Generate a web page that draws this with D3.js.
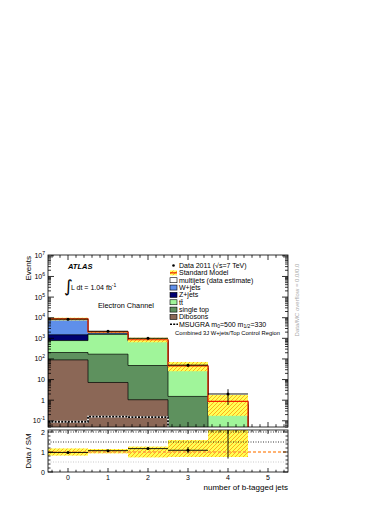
<!DOCTYPE html>
<html><head><meta charset="utf-8">
<script src="https://cdn.jsdelivr.net/npm/d3@7"></script>
<style>body{margin:0;background:#fff} svg{font-family:"Liberation Sans",Arial,Helvetica,sans-serif}</style>
</head><body><svg id="c" width="390" height="505"></svg>
<script>
// ---- data ----
const categories = [0, 1, 2, 3, 4, 5];
const dibosons  = [90, 7.2, 1.05, 0.02, 0.001, 0];
const singleTop = [115, 163, 47, 1.5, 0.02, 0];
const ttbar     = [575, 1400, 680, 34, 0.58, 0];
const zjets     = [700, 60, 12, 1, 0.02, 0];
const wjets     = [7000, 400, 100, 8, 0.18, 0];
const multijets = [220, 30, 15, 1.5, 0.07, 0];
const dataVals  = [8500, 2200, 1000, 50, 2, 0];
const msugra    = [0.09, 0.16, 0.15, 0.001, 0.001, 0.001];
const bandLo    = [0.15, 0.1, 0.25, 0.45, 0.8, 0];
const bandHi    = [0.15, 0.1, 0.25, 0.55, 1.07, 0];
const ratioLo   = [0.18, 0.07, 0.27, 0.25, 0.25, 0];
const ratioHi   = [0.18, 0.15, 0.27, 0.6, 1.5, 0];
const yTickVals = [0.1, 1, 10, 100, 1e3, 1e4, 1e5, 1e6, 1e7];
const ratioTickVals = [0, 1, 2];

const components = [
  {name: "Dibosons", vals: dibosons, color: "#8b6756"},
  {name: "single top", vals: singleTop, color: "#5e915e"},
  {name: "tt", vals: ttbar, color: "#a0f59a"},
  {name: "Z+jets", vals: zjets, color: "#000070"},
  {name: "W+jets", vals: wjets, color: "#5f8fea"},
  {name: "multijets (data estimate)", vals: multijets, color: "#ffffff"}
];

// ---- layout ----
const L = 48, R = 288, T = 255, B = 427, RT = 430, RB = 472;
const svg = d3.select("#c");
const x = d3.scaleLinear().domain([-0.5, 5.5]).range([L, R]);
const y = d3.scaleLog().domain([0.05, 1.1e7]).range([B, T]);
const yr = d3.scaleLinear().domain([0, 2.1]).range([RB, RT]);

const defs = svg.append("defs");
defs.append("clipPath").attr("id", "cm").append("rect").attr("x", L).attr("y", T).attr("width", R - L).attr("height", B - T);
defs.append("clipPath").attr("id", "cr").append("rect").attr("x", L).attr("y", RT).attr("width", R - L).attr("height", RB - RT);
const pat = defs.append("pattern").attr("id", "hatch").attr("patternUnits", "userSpaceOnUse").attr("width", 4).attr("height", 4);
pat.append("rect").attr("width", 4).attr("height", 4).attr("fill", "#ffff55");
pat.append("path").attr("d", "M-1,1 l2,-2 M0,4 l4,-4 M3,5 l2,-2").attr("stroke", "#ff8c00").attr("stroke-width", 0.7);

// cumulative stacks
const cum = [];
let run = categories.map(() => 0);
components.forEach(c => { run = run.map((v, i) => v + c.vals[i]); cum.push({...c, cum: run.slice()}); });
const total = run;

function stepArea(vals, ys, base) {
  let p = `M${x(-0.5)},${base}`;
  vals.forEach((v, i) => { const yy = ys(Math.max(v, 1e-4)); p += `L${x(i - 0.5)},${yy}L${x(i + 0.5)},${yy}`; });
  return p + `L${x(5.5)},${base}Z`;
}
function stepLine(vals, ys) {
  let p = "";
  vals.forEach((v, i) => { const yy = ys(Math.max(v, 1e-4)); p += (i === 0 ? "M" : "L") + `${x(i - 0.5)},${yy}L${x(i + 0.5)},${yy}`; });
  return p;
}

const gm = svg.append("g").attr("clip-path", "url(#cm)");
cum.slice().reverse().forEach(c => {
  gm.append("path").attr("d", stepArea(c.cum, y, B + 30)).attr("fill", c.color).attr("stroke", "#000").attr("stroke-width", 0.7);
});
// MSUGRA
gm.append("path").attr("d", stepLine(msugra, y)).attr("fill", "none").attr("stroke", "#fff").attr("stroke-width", 1.8);
gm.append("path").attr("d", stepLine(msugra, y)).attr("fill", "none").attr("stroke", "#000").attr("stroke-width", 1.8).attr("stroke-dasharray", "2,1.3");
// uncertainty band
categories.forEach((c, i) => {
  if (total[i] <= 0) return;
  const y1 = y(total[i] * (1 + bandHi[i])), y0 = y(Math.max(total[i] * (1 - bandLo[i]), 1e-4));
  gm.append("rect").attr("x", x(i - 0.5)).attr("width", x(i + 0.5) - x(i - 0.5)).attr("y", y1).attr("height", y0 - y1).attr("fill", "url(#hatch)");
});
// SM line
gm.append("path").attr("d", stepLine(total, y)).attr("fill", "none").attr("stroke", "#ee2200").attr("stroke-width", 1.2);
// data
categories.forEach((c, i) => {
  const n = dataVals[i]; if (n <= 0) return;
  const e = Math.sqrt(n);
  gm.append("line").attr("x1", x(i - 0.5)).attr("x2", x(i + 0.5)).attr("y1", y(n)).attr("y2", y(n)).attr("stroke", "#000").attr("stroke-width", 0.9);
  gm.append("line").attr("x1", x(c)).attr("x2", x(c)).attr("y1", y(n + e)).attr("y2", y(Math.max(n - e, 1e-3))).attr("stroke", "#000").attr("stroke-width", 0.9);
  gm.append("circle").attr("cx", x(c)).attr("cy", y(n)).attr("r", 1.5).attr("fill", "#000");
});

// ---- ratio panel ----
const gr = svg.append("g").attr("clip-path", "url(#cr)");
categories.forEach((c, i) => {
  if (total[i] <= 0) return;
  const y1 = yr(1 + ratioHi[i]), y0 = yr(1 - ratioLo[i]);
  gr.append("rect").attr("x", x(i - 0.5)).attr("width", x(i + 0.5) - x(i - 0.5)).attr("y", y1).attr("height", y0 - y1).attr("fill", "url(#hatch)");
});
[[2, "#000", "1,1.5"], [1.5, "#000", "1,1.5"], [0.5, "#bbb", "1,1.5"]].forEach(([v, col, da]) => {
  gr.append("line").attr("x1", L).attr("x2", R).attr("y1", yr(v)).attr("y2", yr(v)).attr("stroke", col).attr("stroke-width", 0.8).attr("stroke-dasharray", da);
});
gr.append("line").attr("x1", L).attr("x2", R).attr("y1", yr(1)).attr("y2", yr(1)).attr("stroke", "#ff9944").attr("stroke-width", 1.3).attr("stroke-dasharray", "3,2");
categories.forEach((c, i) => {
  const n = dataVals[i]; if (n <= 0 || total[i] <= 0) return;
  const r = n / total[i], e = Math.sqrt(n) / total[i];
  gr.append("line").attr("x1", x(i - 0.5)).attr("x2", x(i + 0.5)).attr("y1", yr(r)).attr("y2", yr(r)).attr("stroke", "#000").attr("stroke-width", 0.9);
  gr.append("line").attr("x1", x(c)).attr("x2", x(c)).attr("y1", yr(r + e)).attr("y2", yr(r - e)).attr("stroke", "#000").attr("stroke-width", 0.9);
  gr.append("circle").attr("cx", x(c)).attr("cy", yr(r)).attr("r", 1.5).attr("fill", "#000");
});

// ---- frames & ticks ----
const ax = svg.append("g").attr("stroke", "#000").attr("stroke-width", 0.8);
ax.append("rect").attr("x", L).attr("y", T).attr("width", R - L).attr("height", B - T).attr("fill", "none");
ax.append("rect").attr("x", L).attr("y", RT).attr("width", R - L).attr("height", RB - RT).attr("fill", "none");
function tick(x1, y1, x2, y2) { ax.append("line").attr("x1", x1).attr("y1", y1).attr("x2", x2).attr("y2", y2); }
for (let k = -2; k <= 27; k++) {
  const v = k * 0.2; if (v < -0.5 || v > 5.5) continue;
  const major = Math.abs(v - Math.round(v)) < 1e-6;
  const len = major ? 5 : 2.8;
  tick(x(v), B, x(v), B - len); tick(x(v), T, x(v), T + len);
  tick(x(v), RB, x(v), RB - len * 0.8); tick(x(v), RT, x(v), RT + len * 0.8);
}
for (let d = -2; d <= 7; d++) {
  for (let m = 1; m <= 9; m++) {
    const v = m * Math.pow(10, d);
    if (v < 0.05 || v > 1.1e7) continue;
    const len = m === 1 ? 6 : 3;
    tick(L, y(v), L + len, y(v)); tick(R, y(v), R - len, y(v));
  }
}
for (let k = 0; k <= 10; k++) {
  const v = k * 0.2; const major = k % 5 === 0;
  const len = major ? 5 : 2.5;
  tick(L, yr(v), L + len, yr(v)); tick(R, yr(v), R - len, yr(v));
}

// ---- labels ----
const txt = svg.append("g").attr("fill", "#000").attr("font-size", 7);
yTickVals.forEach(v => {
  const e = Math.round(Math.log10(v));
  const t = txt.append("text").attr("x", 45).attr("y", y(v) + 2.5).attr("text-anchor", "end");
  if (e === 0) t.text("1");
  else if (e === 1) t.text("10");
  else { t.append("tspan").text("10"); t.append("tspan").attr("dy", -3).attr("font-size", 5).text(e); }
});
ratioTickVals.forEach(v => {
  txt.append("text").attr("x", 45).attr("y", yr(v) + 2.5).attr("text-anchor", "end").text(v);
});
categories.forEach(c => {
  txt.append("text").attr("x", x(c)).attr("y", 480).attr("text-anchor", "middle").text(c);
});
txt.append("text").attr("x", R).attr("y", 490).attr("text-anchor", "end").attr("font-size", 8).text("number of b-tagged jets");
txt.append("text").attr("transform", "translate(30.5,256) rotate(-90)").attr("text-anchor", "end").attr("font-size", 8).text("Events");
txt.append("text").attr("transform", "translate(30.5,451) rotate(-90)").attr("text-anchor", "middle").attr("font-size", 8).text("Data / SM");
txt.append("text").attr("transform", "translate(299,300) rotate(-90)").attr("text-anchor", "middle").attr("font-size", 6).attr("fill", "#aaa").text("Data/MC overflow = 0.0/0.0");

// ATLAS & lumi
txt.append("text").attr("x", 68).attr("y", 268.5).attr("font-weight", "bold").attr("font-style", "italic").attr("font-size", 7.5).text("ATLAS");
txt.append("text").attr("x", 64).attr("y", 292).attr("font-size", 17).attr("font-family", "DejaVu Sans").text("∫");
const lum = txt.append("text").attr("x", 71).attr("y", 289.5).attr("font-size", 7);
lum.append("tspan").text("L dt = 1.04 fb");
lum.append("tspan").attr("dy", -3).attr("font-size", 5).text("-1");
txt.append("text").attr("x", 98).attr("y", 307.5).attr("font-size", 7.3).text("Electron Channel");

// ---- legend ----
const lg = svg.append("g").attr("font-size", 7);
const ly = i => 265.5 + i * 7.35;
lg.append("circle").attr("cx", 173.5).attr("cy", ly(0)).attr("r", 1.3).attr("fill", "#000");
lg.append("text").attr("x", 179).attr("y", ly(0) + 2.5).text("Data 2011 (√s=7 TeV)");
lg.append("rect").attr("x", 170).attr("y", ly(1) - 2.5).attr("width", 7).attr("height", 5).attr("fill", "url(#hatch)");
lg.append("line").attr("x1", 170).attr("x2", 177).attr("y1", ly(1)).attr("y2", ly(1)).attr("stroke", "#ee2200").attr("stroke-width", 1.2);
lg.append("text").attr("x", 179).attr("y", ly(1) + 2.5).text("Standard Model");
const legOrder = components.slice().reverse();
legOrder.forEach((c, k) => {
  const i = k + 2;
  lg.append("rect").attr("x", 170).attr("y", ly(i) - 2.5).attr("width", 7).attr("height", 5).attr("fill", c.color).attr("stroke", "#000").attr("stroke-width", 0.6);
  const t = lg.append("text").attr("x", 179).attr("y", ly(i) + 2.5);
  if (c.name === "tt") { t.append("tspan").attr("text-decoration", "overline").text("t"); t.text("t"); t.append("tspan").text("\u0305"); t.text("tt\u0304"); }
  else t.text(c.name);
});
lg.append("line").attr("x1", 170).attr("x2", 178).attr("y1", ly(8)).attr("y2", ly(8)).attr("stroke", "#000").attr("stroke-width", 1.6).attr("stroke-dasharray", "2,1.2");
const ms = lg.append("text").attr("x", 179).attr("y", ly(8) + 2.5);
ms.append("tspan").text("MSUGRA m");
ms.append("tspan").attr("dy", 1.5).attr("font-size", 5).text("0");
ms.append("tspan").attr("dy", -1.5).text("=500 m");
ms.append("tspan").attr("dy", 1.5).attr("font-size", 5).text("1/2");
ms.append("tspan").attr("dy", -1.5).text("=330");
lg.append("text").attr("x", 175).attr("y", 335).attr("font-size", 5.8).text("Combined 3J W+jets/Top Control Region");
</script></body></html>
